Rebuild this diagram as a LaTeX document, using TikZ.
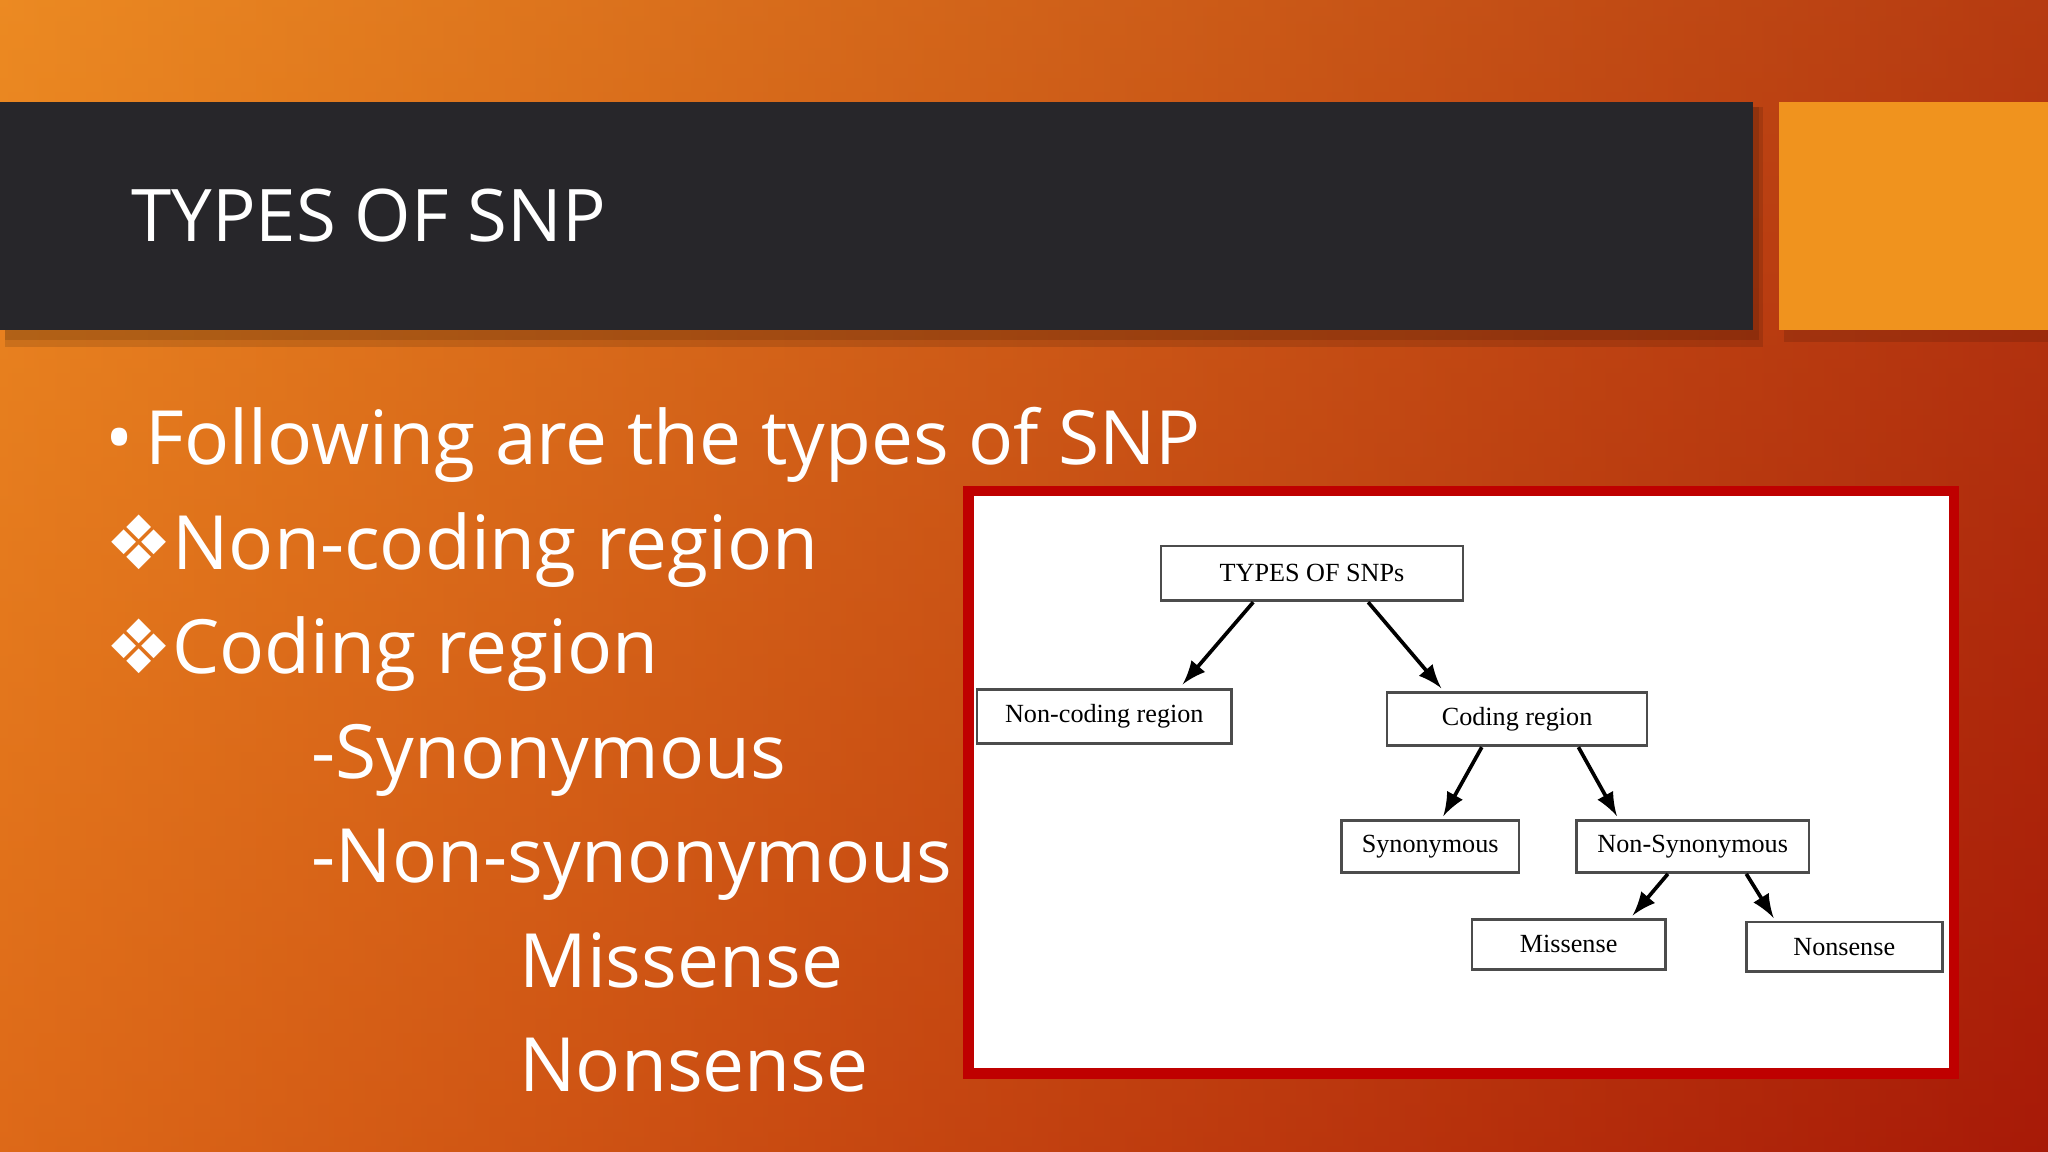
\documentclass[tikz,border=0pt]{standalone}
\usepackage{fontspec}
\setmainfont{Open Sans}
\newfontfamily\dfont{Liberation Serif}
\newfontfamily\symfont{DejaVu Sans}
\usetikzlibrary{calc}
\definecolor{bar}{HTML}{27262A}
\definecolor{sq}{HTML}{F0931E}
\definecolor{bgA}{HTML}{EC8A22}
\definecolor{bgB}{HTML}{C8380A}
\definecolor{bgC}{HTML}{920606}
\begin{document}
\begin{tikzpicture}[x=0.01cm,y=-0.01cm,
  bx/.style={draw=black!70,line width=0.6pt,fill=white,inner sep=0pt,font=\dfont\fontsize{5.7}{7}\selectfont},
  ar/.style={-latex,line width=0.8pt},
  body/.style={anchor=base west,text=white,inner sep=0pt,font=\fontsize{16.3}{19}\selectfont}]
\useasboundingbox (0,0) rectangle (1568,882);
\shade[top color=bgA, bottom color=bgB] (0,0) rectangle (1568,882);
\shade[left color=bgA, right color=bgC, opacity=0.6] (0,0) rectangle (1568,882);
\shade[left color=bgB, right color=bgC, opacity=0.0] (0,0) rectangle (1568,882);
\fill[black,opacity=0.12] (4,82) rectangle (1350,266);
\fill[black,opacity=0.12] (4,82) rectangle (1347,260);
\fill[black,opacity=0.12] (1366,82) rectangle (1568,262);
\fill[bar] (0,78) rectangle (1342,253);
\fill[sq] (1362,78) rectangle (1568,253);
\node[anchor=base west,text=white,inner sep=0pt,font=\fontsize{15.8}{19}\selectfont] (title) at (100,185) {TYPES OF SNP};
\node[body] (l1) at (80,356) {\textbullet\,Following are the types of SNP};
\node[body] (l2) at (80,436) {{\symfont❖}Non-coding region};
\node[body] (l3) at (80,516) {{\symfont❖}Coding region};
\node[body] (l4) at (238,596) {-Synonymous};
\node[body] (l5) at (238,676) {-Non-synonymous};
\node[body] (l6) at (397,756) {Missense};
\node[body] (l7) at (397,836) {Nonsense};
\fill[red!75!black] (737,372) rectangle (1500,826);
\fill[white] (746,380) rectangle (1492,818);
\node[bx,minimum width=2.31cm,minimum height=0.42cm] (t) at (1004.5,439) {TYPES OF SNPs};
\node[bx,minimum width=1.95cm,minimum height=0.41cm] (nc) at (845.5,548.5) {Non-coding region};
\node[bx,minimum width=1.99cm,minimum height=0.41cm] (c) at (1161.5,550.5) {Coding region};
\node[bx,minimum width=1.36cm,minimum height=0.40cm] (s) at (1095,648) {Synonymous};
\node[bx,minimum width=1.78cm,minimum height=0.40cm] (ns) at (1296,648) {Non-Synonymous};
\node[bx,minimum width=1.48cm,minimum height=0.38cm] (m) at (1201,723) {Missense};
\node[bx,minimum width=1.50cm,minimum height=0.38cm] (n) at (1412,725) {Nonsense};
\draw[ar] ($(t.south)+(-45,0)$) -- ($(nc.north)+(60,-3)$);
\draw[ar] ($(t.south)+(43,0)$) -- ($(c.north)+(-58,-2)$);
\draw[ar] ($(c.south)+(-27,0)$) -- ($(s.north)+(10,-2)$);
\draw[ar] ($(c.south)+(47,0)$) -- ($(ns.north)+(-58,-2)$);
\draw[ar] ($(ns.south)+(-19,0)$) -- ($(m.north)+(49,-2)$);
\draw[ar] ($(ns.south)+(41,0)$) -- ($(n.north)+(-54,-2)$);
\end{tikzpicture}
\end{document}
